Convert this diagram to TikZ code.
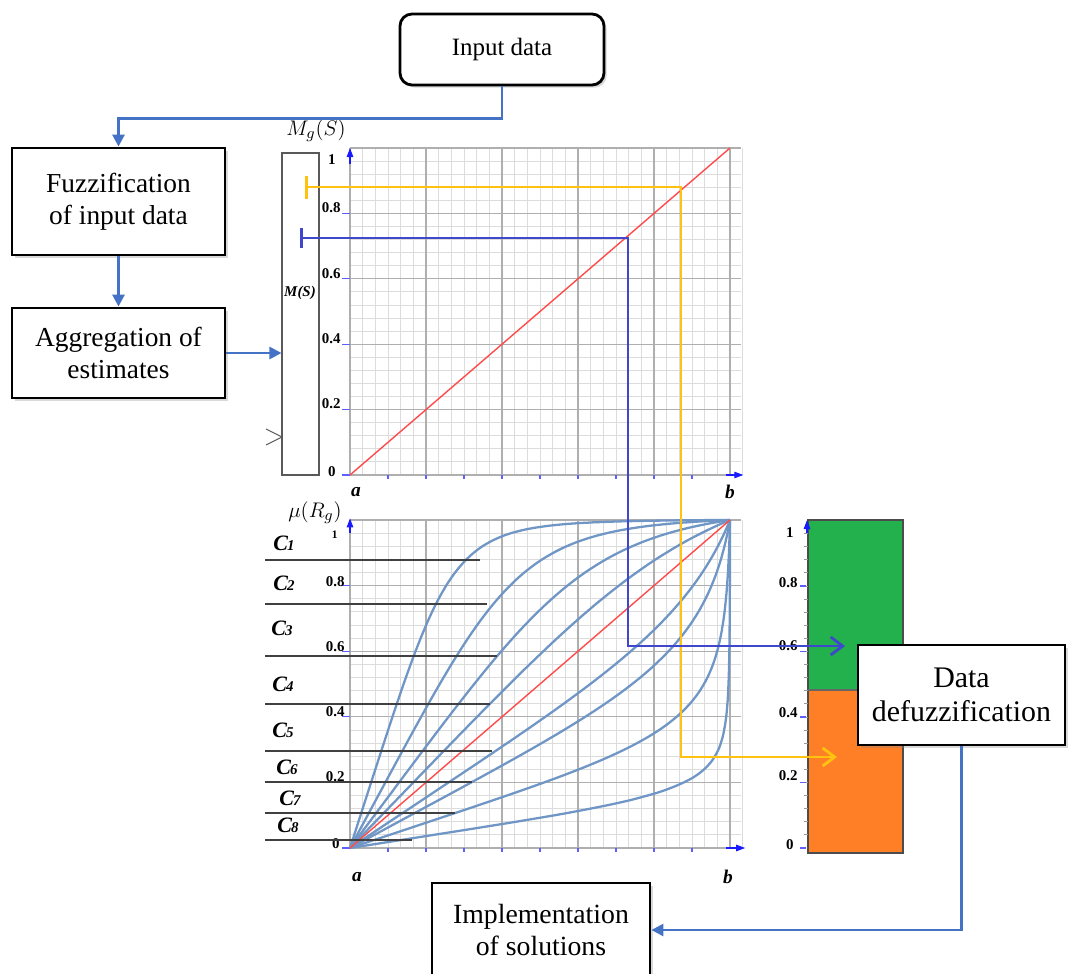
\documentclass[tikz,border=0pt]{standalone}
\usepackage{fontspec}
\setmainfont{Liberation Serif}
\usetikzlibrary{arrows.meta,shadows}

\definecolor{flowblue}{HTML}{4472C4}
\definecolor{curveblue}{HTML}{7096C6}
\definecolor{markblue}{HTML}{3F48CC}
\definecolor{markyellow}{HTML}{FFC20E}
\definecolor{plotred}{HTML}{FF4B4B}
\definecolor{axisblue}{HTML}{1A1AFF}
\definecolor{minorgray}{HTML}{DCDCDC}
\definecolor{majorgray}{HTML}{AFAFAF}
\definecolor{bargreen}{HTML}{22B14C}
\definecolor{barorange}{HTML}{FF7F27}

\newcommand{\clabel}[1]{{\fontsize{12.5}{12}\selectfont\bfseries\itshape C\kern-0.5pt\fontsize{8.5}{9}\selectfont #1}}

\tikzset{
  box/.style={draw=black, line width=1.6pt, fill=white, align=center, inner sep=2pt,
    font=\fontsize{15.6}{18.2}\selectfont,
    drop shadow={opacity=0.3, shadow xshift=1.5pt, shadow yshift=-1.5pt}},
  flow/.style={draw=flowblue, line width=1.5pt, -{Triangle[length=2.4mm,width=2.4mm]}},
  minorgrid/.style={draw=minorgray, line width=0.5pt},
  majorgrid/.style={draw=majorgray, line width=0.7pt},
  tickblue/.style={draw=axisblue!70, line width=0.6pt},
  axisarrow/.style={draw=axisblue, line width=0.6pt, -{Triangle[length=1.8mm,width=1.3mm]}},
  ticklabel/.style={font=\fontsize{8.5}{9}\selectfont\bfseries, inner sep=0pt, anchor=east},
  axislabel/.style={font=\fontsize{11}{12}\selectfont\bfseries\itshape, inner sep=0pt},
  levelline/.style={line width=1.6pt},
  fuzzycurve/.style={draw=curveblue, line width=1.3pt},
  redline/.style={draw=plotred, line width=0.8pt},
  classline/.style={draw=black!75, line width=0.8pt},
}

\begin{document}
\begin{tikzpicture}[x=0.2mm, y=-0.2mm]
  \useasboundingbox (0,0) rectangle (1069,974);

  % flow boxes on the left
  \node[box, rounded corners=2.4mm, minimum width=40.8mm, minimum height=14.2mm,
    font=\fontsize{14.2}{17}\selectfont] (input) at (502,49.5) {Input data};
  \node[box, minimum width=42.6mm, minimum height=21.4mm] (fuzz) at (118.5,201.5) {Fuzzification\\of input data};
  \node[box, minimum width=42.6mm, minimum height=18mm] (aggr) at (118.5,353) {Aggregation of\\estimates};
  \node[draw=black!65, line width=0.6pt, minimum width=7.4mm, minimum height=64.4mm, inner sep=0pt] (msbox) at (300.5,314) {};
  \node[font=\fontsize{8.5}{9}\selectfont\bfseries\itshape, inner sep=0pt] (mslabel) at (300,293) {M(S)};
  \draw[black!65, line width=0.6pt] (266,429) -- (282,437) -- (266,445);

  % top chart: M_g(S)
  \begin{scope}[shift={(350,475)}, xscale=380, yscale=-327]
    \foreach \i in {0,...,31} \draw[minorgrid] (\i/30,0) -- (\i/30,1);
    \foreach \j in {0,...,25} \draw[minorgrid] (0,\j/25) -- (1.03,\j/25);
    \foreach \i in {0,...,5} \draw[majorgrid] (\i/5,0) -- (\i/5,1);
    \foreach \j in {0,...,5} \draw[majorgrid] (0,\j/5) -- (1.03,\j/5);
    \foreach \i in {1,...,9} \draw[tickblue] (\i/10,0) -- (\i/10,-0.012);
    \foreach \j in {0,...,4} \draw[tickblue] (-0.02,\j/5) -- (0,\j/5);
    \draw[redline] (0,0) -- (1,1);
    \draw[axisarrow] (0,0.95) -- (0,1.0);
    \draw[axisarrow] (0.99,0) -- (1.035,0);
  \end{scope}
  \node (mg) at (316,131) {\fontsize{12.5}{13}\selectfont$M_g(S)$};
  \foreach \v/\y [count=\n] in {0.8/208, 0.6/274, 0.4/339, 0.2/404}
    \node[ticklabel] (topt\n) at (341,\y) {\v};
  \node[ticklabel] (topone) at (336,160) {1};
  \node[ticklabel] (topzero) at (336,472) {0};
  \node[axislabel] (topa) at (356,492) {a};
  \node[axislabel] (topb) at (730,492) {b};

  % bottom chart: mu(R_g)
  \begin{scope}[shift={(350,848)}, xscale=380, yscale=-328]
    \foreach \i in {0,...,31} \draw[minorgrid] (\i/30,0) -- (\i/30,1);
    \foreach \j in {0,...,25} \draw[minorgrid] (0,\j/25) -- (1.03,\j/25);
    \foreach \i in {0,...,5} \draw[majorgrid] (\i/5,0) -- (\i/5,1);
    \foreach \j in {0,...,5} \draw[majorgrid] (0,\j/5) -- (1.03,\j/5);
    \foreach \i in {1,...,9} \draw[tickblue] (\i/10,0) -- (\i/10,-0.012);
    \foreach \j in {0,...,4} \draw[tickblue] (-0.02,\j/5) -- (0,\j/5);
    \foreach \k in {1.2,1.55,2.15,3.6}
      \draw[fuzzycurve] plot[domain=0:1, samples=90, smooth] (\x,{\k*\x/(1+(\k^4-1)*\x^4)^0.25});
    \foreach \k in {1.3,1.6,2.6,5.5}
      \draw[fuzzycurve] plot[domain=0:1, samples=90, smooth] ({\k*\x/(1+(\k^4-1)*\x^4)^0.25},\x);
    \draw[redline] (0,0) -- (1,1);
    \draw[axisarrow] (0,0.96) -- (0,1.005);
    \draw[axisarrow] (0.99,0) -- (1.04,0);
  \end{scope}
  \node (mu) at (315,513) {\fontsize{13}{14}\selectfont$\mu(R_g)$};
  \foreach \v/\y [count=\n] in {0.8/582, 0.6/647, 0.4/712, 0.2/777}
    \node[ticklabel] (bott\n) at (345,\y) {\v};
  \node[ticklabel, font=\fontsize{6.5}{7}\selectfont\bfseries] (botone) at (338,535) {1};
  \node[ticklabel] (botzero) at (340,844) {0};
  \node[axislabel] (bota) at (357,877) {a};
  \node[axislabel] (botb) at (728,877) {b};

  % class bands C1..C8
  \foreach \y/\e in {560/480, 604/487, 656/497, 704/490, 751/492, 782/472, 813/455, 840/412}
    \draw[classline] (265,\y) -- (\e,\y);
  \foreach \t/\x/\y in {1/284/543, 2/284/583, 3/282/628, 4/283/684, 5/283/730, 6/287/767, 7/290/798, 8/288/825}
    \node[inner sep=0pt] (c\t) at (\x,\y) {\clabel{\t}};

  % result bar
  \fill[bargreen] (808,520) rectangle (903,690);
  \fill[barorange] (808,690) rectangle (903,853);
  \draw[black!70, line width=0.8pt] (808,520) rectangle (903,853);
  \draw[black!60, line width=0.8pt] (808,690) -- (903,690);
  \foreach \j in {1,...,24} \draw[black!40, line width=0.5pt] (804,848-13.1*\j) -- (808,848-13.1*\j);
  \foreach \j in {0,...,4} \draw[tickblue] (800,848-65.5*\j) -- (806,848-65.5*\j);
  \draw[axisarrow] (807,533) -- (807,520);
  \foreach \v/\y [count=\n] in {0.8/583, 0.6/646, 0.4/713, 0.2/776}
    \node[ticklabel] (bart\n) at (798,\y) {\v};
  \node[ticklabel] (barone) at (794,533) {1};
  \node[ticklabel] (barzero) at (794,845) {0};

  % readings carried through the charts
  \coordinate (ystart) at (305,187);
  \coordinate (yturn) at (681,757);
  \coordinate (yend) at (837,757);
  \draw[levelline, draw=markyellow, {Bar[width=4.6mm]}-{Straight Barb[length=2.4mm,width=3.6mm]}]
    (ystart) -| (yturn) -- (yend);
  \coordinate (bstart) at (300,238);
  \coordinate (bturn) at (628,646);
  \coordinate (bend) at (845,646);
  \draw[levelline, draw=markblue, {Bar[width=4mm]}-{Straight Barb[length=2.4mm,width=3.6mm]}]
    (bstart) -| (bturn) -- (bend);

  % right and bottom boxes
  \node[box, minimum width=41.4mm, minimum height=20mm, font=\fontsize{17}{19.5}\selectfont] (defuzz) at (961.5,695) {Data\\defuzzification};
  \node[box, minimum width=43.6mm, minimum height=18.8mm, font=\fontsize{15.8}{18}\selectfont] (impl) at (541,930) {Implementation\\of solutions};

  % connectors
  \draw[flow] (input.south) -- ++(0,32) -| (fuzz.north);
  \draw[flow] (fuzz.south) -- (aggr.north);
  \draw[flow] (aggr.east) -- (aggr.east -| msbox.west);
  \draw[flow] (defuzz.south) |- (impl.east);
\end{tikzpicture}
\end{document}
